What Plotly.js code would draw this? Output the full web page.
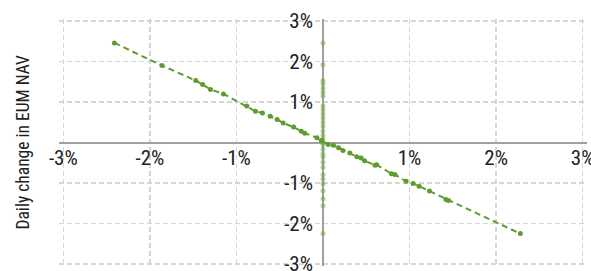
<!DOCTYPE html>
<html>
<head>
<meta charset="utf-8">
<script src="https://cdn.plot.ly/plotly-3.0.1.min.js"></script>
<style>
  html, body { margin: 0; padding: 0; background: #fff; }
  #chart { width: 591px; height: 271px; }
  #chart text { font-stretch: condensed; }
</style>
</head>
<body>
<div id="chart"></div>
<script>
// Main series: daily change (x) vs daily change in EUM NAV (y), in %
const mainX = [-2.41, -1.86, -1.47, -1.39, -1.30, -1.15, -0.88, -0.78, -0.70, -0.61, -0.53, -0.46, -0.34, -0.25, -0.21, -0.07, -0.02,
               0.06, 0.12, 0.18, 0.23, 0.31, 0.39, 0.44, 0.48, 0.60, 0.62, 0.79, 0.83, 0.96, 1.04, 1.11, 1.23, 1.42, 1.45, 2.28];
const mainY = [2.46, 1.90, 1.53, 1.43, 1.31, 1.20, 0.90, 0.77, 0.73, 0.65, 0.57, 0.48, 0.38, 0.28, 0.23, 0.12, 0.05,
               -0.05, -0.07, -0.13, -0.20, -0.26, -0.35, -0.38, -0.45, -0.56, -0.55, -0.77, -0.79, -0.96, -1.01, -1.08, -1.20, -1.41, -1.43, -2.25];

// Second series: points lying on x = 0
const axisY = [2.46, 1.92, 1.53, 1.45, 1.34, 1.24, 1.15, 0.90, 0.81, 0.71, 0.61, 0.50, 0.40, 0.28, 0.17, 0.08, 0.0,
               -0.05, -0.16, -0.28, -0.36, -0.49, -0.61, -0.79, -0.90, -1.02, -1.19, -1.39, -1.56, -2.25];
const axisX = axisY.map(() => 0);

const tickVals = [-3, -2, -1, 1, 2, 3];
const tickText = ['-3%', '-2%', '-1%', '1%', '2%', '3%'];
const yTitle = 'Daily change in EUM NAV';

const FONT = '"Liberation Sans Narrow", "Roboto Condensed", "Arial Narrow", "DejaVu Sans Condensed", sans-serif';

const traces = [
  {
    x: axisX, y: axisY, type: 'scatter', mode: 'markers',
    marker: { color: 'rgba(110,165,70,0.5)', size: 5 },
    hoverinfo: 'skip', showlegend: false
  },
  {
    x: mainX, y: mainY, type: 'scatter', mode: 'lines+markers',
    line: { color: '#5e9c30', width: 2, dash: '6px,4px' },
    marker: { color: '#5e9c30', size: 5 },
    hoverinfo: 'skip', showlegend: false
  }
];

const gridStyle = {
  showgrid: true, gridcolor: '#d6d6d6', gridwidth: 1.6, griddash: '5px,3px',
  zeroline: true, zerolinecolor: '#a0a0a0', zerolinewidth: 2,
  range: [-3.05, 3.05], tickvals: tickVals, ticktext: tickText,
  ticks: '', showline: false, fixedrange: true, ticklabeloverflow: 'allow',
  tickfont: { family: FONT, size: 21, color: '#222' }
};

const layout = {
  width: 591, height: 271,
  margin: { l: 59, r: 4, t: 19, b: 5 },
  paper_bgcolor: '#fff', plot_bgcolor: '#fff',
  font: { family: FONT, color: '#222' },
  showlegend: false,
  xaxis: Object.assign({}, gridStyle, {
    anchor: 'free', position: 0.5, side: 'bottom', ticklabelstandoff: 0
  }),
  yaxis: Object.assign({}, gridStyle, {
    anchor: 'free', position: 0.5, side: 'left', ticklabelstandoff: 10
  }),
  annotations: [{
    text: yTitle, xref: 'paper', yref: 'paper', x: 0, y: 0.5,
    xanchor: 'center', yanchor: 'middle',
    xshift: -37, textangle: -90, showarrow: false,
    font: { family: FONT, size: 17.5, color: '#222' }
  }]
};

Plotly.newPlot('chart', traces, layout, { displayModeBar: false, staticPlot: true });
</script>
</body>
</html>
